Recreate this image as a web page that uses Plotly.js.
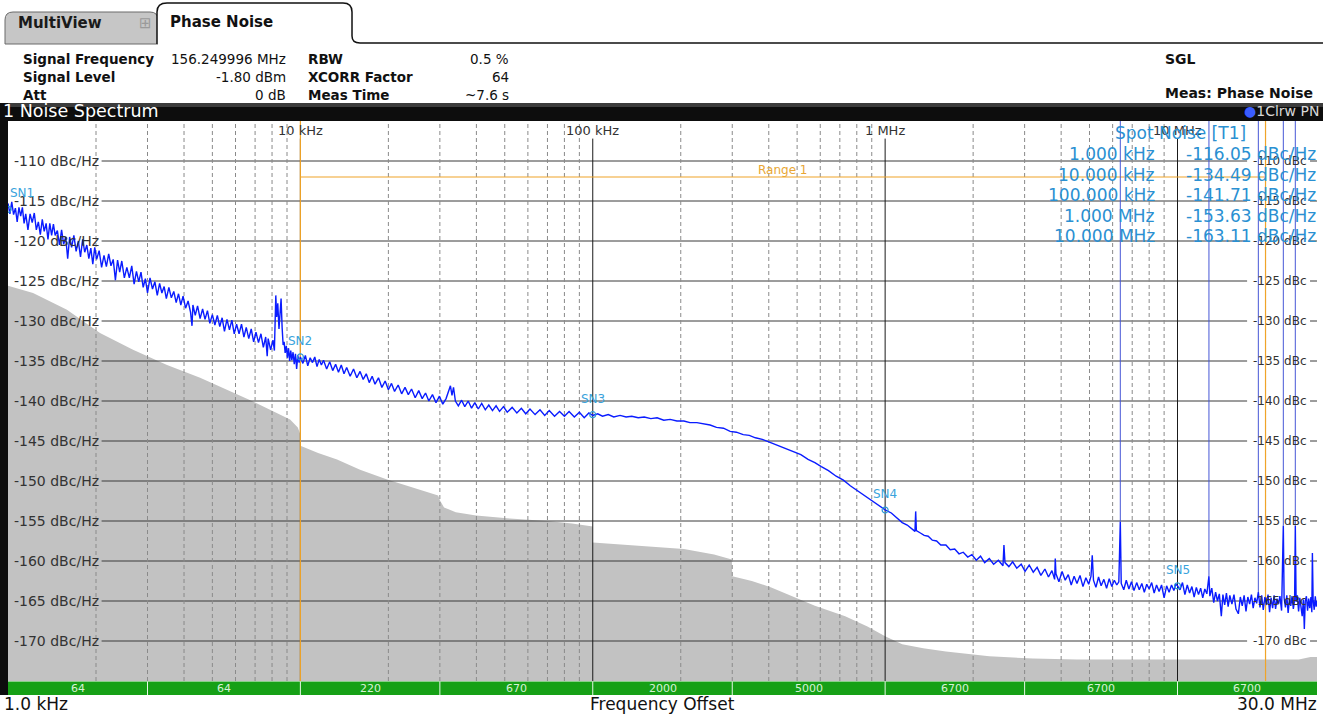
<!DOCTYPE html>
<html><head><meta charset="utf-8">
<script src="https://cdn.plot.ly/plotly-3.0.1.min.js"></script>
<style>html,body{margin:0;padding:0;background:#fff;overflow:hidden}#chart{width:1323px;height:714px}</style>
</head><body><div id="chart"></div>
<script>
// ---------------- DATA ----------------
// Measured phase noise trace, 1 kHz - 10 kHz: [offset kHz, dBc/Hz]
const noise1k = [
[1.000,-115.3],[1.015,-116.6],[1.030,-115.1],[1.045,-116.7],[1.060,-115.9],[1.075,-117.6],[1.090,-115.8],[1.105,-116.9],[1.120,-115.8],[1.135,-117.8],
[1.150,-116.6],[1.170,-118.6],[1.190,-116.6],[1.210,-117.7],[1.230,-116.5],[1.250,-118.6],[1.270,-117.6],[1.290,-119.2],[1.310,-117.3],[1.330,-118.8],
[1.350,-117.8],[1.370,-119.8],[1.390,-117.8],[1.410,-119.3],[1.430,-117.9],[1.450,-119.3],[1.475,-118.7],[1.500,-120.5],[1.525,-118.6],[1.550,-120.4],
[1.575,-119.5],[1.600,-122.2],[1.625,-119.5],[1.650,-120.8],[1.680,-119.3],[1.710,-121.3],[1.740,-120.0],[1.770,-122.0],[1.800,-119.8],[1.830,-121.4],
[1.860,-120.5],[1.890,-122.2],[1.920,-120.9],[1.950,-122.9],[1.980,-120.8],[2.010,-122.3],[2.050,-121.2],[2.090,-123.3],[2.130,-121.8],[2.170,-123.2],
[2.210,-121.6],[2.250,-123.1],[2.290,-122.3],[2.330,-124.9],[2.370,-122.4],[2.410,-123.9],[2.450,-122.5],[2.500,-124.6],[2.550,-123.3],[2.600,-124.6],
[2.650,-123.1],[2.700,-125.4],[2.750,-123.8],[2.800,-125.1],[2.850,-123.9],[2.900,-125.8],[2.950,-124.7],[3.000,-126.5],[3.060,-124.6],[3.120,-126.0],
[3.180,-125.1],[3.240,-126.8],[3.300,-125.3],[3.360,-126.5],[3.420,-125.7],[3.480,-127.2],[3.550,-125.8],[3.620,-127.1],[3.690,-126.3],[3.760,-127.7],
[3.830,-126.6],[3.900,-128.0],[3.970,-126.9],[4.050,-128.4],[4.130,-127.5],[4.210,-128.9],[4.260,-130.6],[4.290,-128.0],[4.370,-129.3],[4.450,-128.1],
[4.540,-129.7],[4.630,-128.5],[4.720,-129.8],[4.810,-128.7],[4.900,-130.3],[5.000,-129.2],[5.100,-130.5],[5.200,-129.3],[5.300,-130.7],[5.400,-129.6],
[5.500,-131.3],[5.610,-129.8],[5.720,-131.1],[5.830,-129.9],[5.940,-131.6],[6.050,-130.4],[6.170,-131.6],[6.290,-130.4],[6.410,-132.0],[6.530,-130.8],
[6.660,-132.2],[6.790,-131.0],[6.920,-132.6],[7.050,-131.4],[7.190,-132.7],[7.330,-131.6],[7.470,-133.3],[7.610,-132.0],[7.700,-134.4],[7.760,-132.2],
[7.910,-133.6],[8.060,-132.4],[8.150,-133.7],[8.19,-130.5],[8.24,-126.8],[8.30,-129.5],[8.37,-127.8],[8.45,-131.0],[8.52,-128.2],[8.59,-127.2],
[8.66,-130.8],[8.73,-133.0],[8.80,-132.6],[8.87,-134.0],[8.95,-133.1],[9.03,-134.6],[9.11,-133.4],[9.19,-135.0],[9.27,-133.7],[9.35,-134.9],
[9.44,-133.9],[9.53,-135.4],[9.62,-134.1],[9.71,-136.0],[9.80,-134.3],[9.90,-135.2]
];
// 10 kHz - 100 kHz
const noise10k = [
[10.0,-134.5],[10.2,-135.3],[10.4,-134.3],[10.6,-135.6],[10.8,-134.6],[11.0,-135.2],[11.2,-134.5],[11.4,-135.7],[11.6,-134.8],[11.8,-135.5],
[12.0,-134.9],[12.3,-136.0],[12.6,-135.1],[12.9,-136.2],[13.2,-135.4],[13.5,-136.4],[13.8,-135.5],[14.1,-136.6],[14.4,-135.8],[14.8,-136.9],
[15.2,-136.0],[15.6,-137.1],[16.0,-136.3],[16.4,-137.3],[16.8,-136.6],[17.2,-137.7],[17.6,-136.9],[18.0,-137.9],[18.5,-137.1],[19.0,-138.3],
[19.5,-137.5],[20.0,-138.6],[20.5,-137.8],[21.0,-138.8],[21.6,-138.0],[22.2,-139.1],[22.8,-138.3],[23.4,-139.2],[24.0,-138.5],[24.7,-139.6],
[25.4,-138.7],[26.1,-139.7],[26.8,-139.0],[27.5,-140.0],[28.3,-139.2],[29.1,-140.2],[29.9,-139.4],[30.7,-140.4],[31.5,-139.7],[32.2,-138.6],
[32.6,-138.1],[33.0,-139.3],[33.4,-138.3],[33.9,-140.0],[34.7,-140.6],[35.6,-139.9],[36.5,-140.7],[37.5,-140.0],[38.5,-140.9],[39.5,-140.2],
[40.6,-141.0],[41.7,-140.3],[42.9,-141.1],[44.1,-140.5],[45.4,-141.2],[46.7,-140.6],[48.0,-141.3],[49.5,-140.7],[51.0,-141.4],[53.0,-140.8],
[55.0,-141.5],[57.0,-140.9],[59.0,-141.6],[61.0,-141.0],[63.5,-141.7],[66.0,-141.1],[68.5,-141.8],[71.0,-141.2],[74.0,-141.9],[77.0,-141.3],
[80.0,-141.9],[83.0,-141.3],[86.5,-142.0],[90.0,-141.4],[93.5,-142.1],[97.0,-141.5]
];
// 100 kHz - 1 MHz
const noise100k = [
[100,-141.8],[104,-141.6],[108,-141.9],[113,-141.7],[118,-142.0],[124,-141.8],[130,-142.0],[136,-141.9],[143,-142.1],[150,-142.0],
[158,-142.2],[166,-142.1],[175,-142.4],[184,-142.3],[194,-142.5],[205,-142.5],[215,-142.7],[227,-142.7],[240,-142.9],[252,-143.0],
[265,-143.3],[280,-143.4],[295,-143.8],[310,-143.9],[327,-144.2],[343,-144.3],[360,-144.6],[380,-144.8],[400,-145.1],[420,-145.4],
[441,-145.7],[465,-146.0],[490,-146.4],[515,-146.7],[545,-147.3],[575,-147.7],[605,-148.2],[640,-148.7],[680,-149.4],[720,-149.9],
[760,-150.6],[809,-151.3],[850,-151.8],[900,-152.4],[950,-153.0]
];
// 1 MHz - 10 MHz
const noise1M = [
[1000,-153.6],[1050,-154.0],[1100,-154.6],[1144,-155.2],[1190,-155.5],[1230,-155.9],[1265,-156.3],[1272,-153.8],[1279,-156.2],[1320,-156.5],
[1360,-156.8],[1404,-156.9],[1450,-157.4],[1500,-157.5],[1550,-158.0],[1614,-158.0],[1670,-158.6],[1730,-158.5],[1790,-159.1],[1850,-158.9],
[1917,-159.5],[1980,-159.2],[2050,-159.9],[2120,-159.4],[2190,-160.2],[2271,-159.7],[2350,-160.4],[2440,-159.9],[2530,-160.6],[2549,-158.0],
[2570,-160.2],[2650,-160.7],[2730,-160.1],[2820,-160.9],[2920,-160.4],[3010,-161.3],[3110,-160.5],[3211,-161.4],[3310,-160.8],[3410,-161.8],
[3520,-161.0],[3620,-162.0],[3720,-161.2],[3800,-162.3],[3819,-159.7],[3840,-161.6],[3930,-162.6],[4030,-161.3],[4130,-162.4],[4230,-161.7],
[4330,-163.0],[4430,-161.9],[4531,-162.8],[4640,-161.8],[4750,-163.2],[4860,-162.1],[4970,-162.9],[5060,-161.9],[5110,-159.3],[5160,-162.4],
[5260,-163.3],[5370,-162.0],[5480,-163.1],[5600,-162.3],[5720,-163.4],[5840,-162.2],[5960,-163.2],[6080,-162.4],[6200,-163.0],[6300,-162.6],
[6373,-155.1],[6420,-162.8],[6550,-163.6],[6680,-162.4],[6820,-163.5],[6960,-162.6],[7100,-163.7],[7250,-162.7],[7400,-163.6],[7550,-162.8],
[7700,-163.9],[7850,-162.9],[8000,-163.5],[8160,-162.7],[8320,-164.0],[8480,-163.0],[8650,-163.8],[8820,-163.0],[9000,-164.6],[9180,-163.1],
[9360,-163.9],[9540,-163.0],[9720,-163.7],[9860,-162.9]
];
// 10 MHz - 30 MHz
const noise10M = [
[10000,-163.1],[10200,-163.6],[10400,-162.7],[10600,-164.2],[10800,-163.0],[11000,-164.0],[11200,-163.2],[11400,-164.5],[11600,-163.3],[11800,-164.2],
[12000,-163.4],[12200,-164.6],[12400,-163.5],[12600,-164.1],[12810,-161.9],[12900,-164.4],[13100,-163.4],[13300,-165.2],[13500,-163.9],[13700,-165.0],
[13900,-164.1],[14120,-166.9],[14300,-164.2],[14500,-165.5],[14700,-164.0],[14900,-165.7],[15100,-164.3],[15350,-165.4],[15600,-164.2],[15850,-166.0],
[16150,-166.6],[16400,-164.5],[16650,-165.6],[16900,-164.3],[17150,-166.3],[17400,-164.5],[17650,-165.4],[17900,-164.2],[18150,-165.9],[18400,-164.6],
[18650,-165.3],[18900,-163.9],[19150,-165.8],[19400,-164.3],[19650,-166.1],[19900,-164.5],[20150,-165.5],[20400,-164.2],[20650,-166.4],[20900,-164.6],
[21150,-165.9],[21400,-164.3],[21650,-166.0],[21900,-164.7],[22150,-165.4],[22400,-164.4],[22700,-166.2],[23010,-155.6],[23150,-164.6],[23400,-165.8],
[23650,-164.3],[23900,-166.5],[24150,-164.7],[24400,-165.6],[24650,-164.4],[24900,-166.0],[25150,-164.9],[25290,-155.6],[25450,-165.1],[25700,-164.3],
[25950,-166.3],[26200,-164.6],[26450,-165.7],[26700,-166.9],[26950,-164.8],[27150,-168.5],[27350,-165.0],[27600,-164.4],[27850,-166.2],[28100,-164.7],
[28350,-165.9],[28600,-164.5],[28800,-166.4],[28930,-159.0],[29100,-164.9],[29350,-166.1],[29600,-164.4],[29800,-165.7],[30000,-165.0]
];
// Grey cross-correlation floor: [offset kHz, dBc/Hz]
const xcorrFloor = [
[1.0,-125.6],[1.218,-126.5],[1.591,-128.6],[2.064,-131.5],[2.677,-133.6],[3.499,-135.5],[4.54,-137.1],[6.83,-140.0],[8.3,-141.5],[9.22,-142.3],
[9.8,-143.3],[10.0,-144.2],[10.0,-145.6],[11.5,-146.5],[13.35,-147.3],[16.0,-148.6],[19.8,-149.8],[24.5,-150.9],[29.6,-151.8],[30.0,-152.4],
[31.0,-153.3],[34.0,-153.9],[39.9,-154.3],[52.0,-154.7],[69.8,-155.0],[85.0,-155.3],[100,-155.7],[100,-157.7],[143.5,-158.1],[205,-158.5],
[260,-159.2],[299,-159.8],[300,-161.9],[350,-162.5],[408,-163.3],[490,-164.5],[575,-165.6],[730,-166.9],[870,-168.2],[1000,-169.4],
[1144,-170.4],[1350,-170.9],[1614,-171.3],[2271,-171.9],[3200,-172.2],[4531,-172.3],[10000,-172.3],[26000,-172.3],[28500,-172.0],[30000,-172.0]
];
// Off-scale spurs (thin lines running to the top): offset kHz and the trace level they start from
const spurFreqKHz = [6373, 12810, 18900, 23010, 25290];
const spurBaseDbc = [-155.1, -161.9, -163.9, -155.6, -155.6];
// Spot noise markers
const spotNames = ['SN1','SN2','SN3','SN4','SN5'];
const spotFreqKHz = [1, 10, 100, 1000, 10000];
const spotFreqText = ['1.000 kHz','10.000 kHz','100.000 kHz','1.000 MHz','10.000 MHz'];
const spotDbc = [-116.05, -134.49, -141.71, -153.63, -163.11];
// Axes
const yTickVals = [-110,-115,-120,-125,-130,-135,-140,-145,-150,-155,-160,-165,-170];
const decadeKHz = [10, 100, 1000, 10000];
const decadeLabels = ['10 kHz','100 kHz','1 MHz','10 MHz'];
const minorDecadesKHz = [1, 10, 100, 1000, 10000];
const minorMultipliers = [2,3,4,5,6,7,8,9];
const startKHz = 1, stopKHz = 30000;
// XCORR factor bar
const xcorrEdgesKHz = [1,3,10,30,100,300,1000,3000,10000,30000];
const xcorrCounts = ['64','64','220','670','2000','5000','6700','6700','6700'];
// Range 1 limits
const rangeStartKHz = 10, rangeStopKHz = 20000, rangeLevelDbc = -112;
// Header settings
const headerLeft = [['Signal Frequency','156.249996 MHz'],['Signal Level','-1.80 dBm'],['Att','0 dB']];
const headerMid = [['RBW','0.5 %'],['XCORR Factor','64'],['Meas Time','~7.6 s']];

// ---------------- BUILD ----------------
const noiseTrace = noise1k.concat(noise10k, noise100k, noise1M, noise10M);
const HZ = k => k * 1000;
const F = 'DejaVu Sans, Verdana, sans-serif';
const PL = 8, PR = 1317, PT = 121, PB = 681;
const PX = p => (p - PL) / (PR - PL);
const PY = p => (PB - p) / (PB - PT);

const traces = [];
traces.push({
  x: xcorrFloor.map(d => HZ(d[0])).concat([HZ(stopKHz), HZ(startKHz)]),
  y: xcorrFloor.map(d => d[1]).concat([-200, -200]),
  mode: 'lines', fill: 'toself', fillcolor: '#c2c2c2', line: {width: 0}, hoverinfo: 'skip'
});
const gapL = HZ(2.09), gapR1 = HZ(17300), gapR2 = HZ(28400);
const hx = [], hy = [];
yTickVals.forEach(v => { hx.push(gapL, gapR1, null, gapR2, HZ(stopKHz), null); hy.push(v, v, null, v, v, null); });
traces.push({x: hx, y: hy, mode: 'lines', line: {color: '#3a3a3a', width: 1}, hoverinfo: 'skip'});
const mx = [], my = [];
minorDecadesKHz.forEach(d => minorMultipliers.forEach(m => { const f = d * m; if (f < stopKHz) { mx.push(HZ(f), HZ(f), null); my.push(-175, -105, null); } }));
traces.push({x: mx, y: my, mode: 'lines', line: {color: '#8a8a8a', width: 1, dash: '4px,3px'}, hoverinfo: 'skip'});
const dx = [], dy = [];
decadeKHz.forEach(d => { dx.push(HZ(d), HZ(d), null); dy.push(-175, -107.2, null); });
traces.push({x: dx, y: dy, mode: 'lines', line: {color: '#1a1a1a', width: 1}, hoverinfo: 'skip'});
traces.push({
  x: [HZ(rangeStartKHz), HZ(rangeStartKHz), null, HZ(rangeStopKHz), HZ(rangeStopKHz), null, HZ(rangeStartKHz), HZ(rangeStopKHz)],
  y: [-175, -105, null, -175, -105, null, rangeLevelDbc, rangeLevelDbc],
  mode: 'lines', line: {color: '#f0a428', width: 1.2}, hoverinfo: 'skip'
});
traces.push({x: noiseTrace.map(d => HZ(d[0])), y: noiseTrace.map(d => d[1]), mode: 'lines',
  line: {color: '#0a1cff', width: 1.4}, hoverinfo: 'skip'});
const sx = [], sy = [];
spurFreqKHz.forEach((f, i) => { sx.push(HZ(f), HZ(f), null); sy.push(spurBaseDbc[i], -95, null); });
traces.push({x: sx, y: sy, mode: 'lines', line: {color: '#4657d6', width: 1}, hoverinfo: 'skip'});
traces.push({x: spotFreqKHz.map(HZ), y: spotDbc, mode: 'markers',
  marker: {symbol: 'circle-open', size: 6, color: '#2d9ad6', line: {width: 1.2}}, hoverinfo: 'skip'});

const ann = [];
function A(text, px, py, o) {
  ann.push(Object.assign({text: text, x: PX(px), y: PY(py), xref: 'paper', yref: 'paper', showarrow: false,
    xanchor: 'left', yanchor: 'middle', font: {family: F, size: 13.5, color: '#111'}}, o || {}));
}
A('<b>MultiView</b>', 16, 23, {font: {family: F, size: 15, color: '#1a1a1a'}});
A('⊞', 137, 23, {font: {family: F, size: 15, color: '#9a9a9a'}});
A('<b>Phase Noise</b>', 168, 22, {font: {family: F, size: 15, color: '#111'}});
const rowsY = [59, 77.5, 95];
headerLeft.forEach((r, i) => { A('<b>' + r[0] + '</b>', 21, rowsY[i]); A(r[1], 288, rowsY[i], {xanchor: 'right'}); });
headerMid.forEach((r, i) => { A('<b>' + r[0] + '</b>', 306, rowsY[i]); A(r[1], 511, rowsY[i], {xanchor: 'right'}); });
A('<b>SGL</b>', 1163, rowsY[0], {font: {family: F, size: 14, color: '#111'}});
A('<b>Meas: Phase Noise</b>', 1163, 93, {font: {family: F, size: 14, color: '#111'}});
A('1 Noise Spectrum', 1, 111.5, {font: {family: F, size: 17.5, color: '#ffffff'}});
A('<span style="color:#3a5cff">●</span>1Clrw PN', 1321, 111.5, {xanchor: 'right', font: {family: F, size: 14, color: '#d8d8d8'}});
yTickVals.forEach(v => {
  const py = PB - (v + 175) / 70 * (PB - PT);
  A(v + ' dBc/Hz', 12, py, {font: {family: F, size: 14, color: '#333'}});
  A(v + ' dBc', 1280, py, {xanchor: 'center', font: {family: F, size: 12, color: '#333'}});
});
decadeKHz.forEach((d, i) => ann.push({text: decadeLabels[i], x: Math.log10(HZ(d)), y: PY(130), xref: 'x', yref: 'paper',
  showarrow: false, xanchor: 'center', yanchor: 'middle', font: {family: F, size: 13, color: '#333'}}));
ann.push({text: 'Range 1', x: (Math.log10(HZ(rangeStartKHz)) + Math.log10(HZ(rangeStopKHz))) / 2, y: rangeLevelDbc, xref: 'x', yref: 'y',
  showarrow: false, yshift: 7, xanchor: 'center', yanchor: 'middle', font: {family: F, size: 12, color: '#e8a634'}});
spotNames.forEach((n, i) => ann.push({text: n, x: Math.log10(HZ(spotFreqKHz[i])), y: spotDbc[i], xref: 'x', yref: 'y',
  showarrow: false, yshift: 16, xanchor: i === 0 ? 'left' : 'center', yanchor: 'middle', font: {family: F, size: 12, color: '#3aa3dc'}}));
A('Spot Noise [T1]', 1180, 133, {xanchor: 'center', font: {family: F, size: 17, color: '#2a90d2'}});
spotFreqText.forEach((t, i) => {
  const py = 154 + i * 20.6;
  A(t, 1157, py, {xanchor: 'right', font: {family: F, size: 17, color: '#2a90d2'}});
  A(spotDbc[i].toFixed(2) + ' dBc/Hz', 1184, py, {font: {family: F, size: 17, color: '#2a90d2'}});
});
xcorrCounts.forEach((c, i) => ann.push({text: c, x: (Math.log10(HZ(xcorrEdgesKHz[i])) + Math.log10(HZ(xcorrEdgesKHz[i + 1]))) / 2,
  y: PY(688), xref: 'x', yref: 'paper', showarrow: false, xanchor: 'center', yanchor: 'middle',
  font: {family: F, size: 11, color: '#d6f2d6'}}));
A('1.0 kHz', 2, 704, {font: {family: F, size: 17, color: '#111'}});
A('Frequency Offset', 662, 704, {xanchor: 'center', font: {family: F, size: 17, color: '#111'}});
A('30.0 MHz', 1319, 704, {xanchor: 'right', font: {family: F, size: 17, color: '#111'}});

const shapes = [];
const P = (x, y) => PX(x).toFixed(5) + ',' + PY(y).toFixed(5);
shapes.push({type: 'path', xref: 'paper', yref: 'paper', layer: 'below',
  path: 'M' + P(5, 44) + ' L' + P(5, 20) + ' Q' + P(5, 12) + ' ' + P(13, 12) + ' L' + P(150, 12) + ' Q' + P(158, 12) + ' ' + P(158, 20) + ' L' + P(158, 44) + ' Z',
  fillcolor: '#c6c6c6', line: {color: '#6a6a6a', width: 1}});
shapes.push({type: 'path', xref: 'paper', yref: 'paper', layer: 'below',
  path: 'M' + P(157, 44) + ' L' + P(157, 12) + ' Q' + P(157, 3) + ' ' + P(167, 3) + ' L' + P(343, 3) + ' Q' + P(352, 3) + ' ' + P(352, 12) + ' L' + P(352, 44) + ' Z',
  fillcolor: '#ffffff', line: {width: 0}});
shapes.push({type: 'path', xref: 'paper', yref: 'paper',
  path: 'M' + P(157, 44) + ' L' + P(157, 12) + ' Q' + P(157, 3) + ' ' + P(167, 3) + ' L' + P(343, 3) + ' Q' + P(352, 3) + ' ' + P(352, 12) + ' L' + P(352, 36) + ' Q' + P(352, 43) + ' ' + P(360, 43) + ' L' + P(1323, 43),
  fillcolor: 'rgba(0,0,0,0)', line: {color: '#111', width: 1.5}});
shapes.push({type: 'rect', xref: 'paper', yref: 'paper', x0: PX(0), x1: PX(1323), y0: PY(121), y1: PY(103), fillcolor: '#0d0d0d', line: {width: 0}});
shapes.push({type: 'rect', xref: 'paper', yref: 'paper', x0: PX(0), x1: PX(1323), y0: PY(107), y1: PY(103), fillcolor: '#3c3c3c', line: {width: 0}});
shapes.push({type: 'rect', xref: 'paper', yref: 'paper', x0: PX(0), x1: PX(8), y0: PY(695), y1: PY(103), fillcolor: '#0d0d0d', line: {width: 0}});
shapes.push({type: 'rect', xref: 'x', yref: 'paper', x0: HZ(startKHz), x1: HZ(stopKHz), y0: PY(695), y1: PY(681.5), fillcolor: '#16a016', line: {width: 0}});
xcorrEdgesKHz.slice(1, -1).forEach(e => shapes.push({type: 'line', xref: 'x', yref: 'paper', x0: HZ(e), x1: HZ(e), y0: PY(695), y1: PY(681.5), line: {color: '#e8f8e8', width: 1}}));

const layout = {
  width: 1323, height: 714, margin: {l: PL, r: 1323 - PR, t: PT, b: 714 - PB},
  paper_bgcolor: '#ffffff', plot_bgcolor: '#ffffff', showlegend: false,
  xaxis: {type: 'log', range: [Math.log10(HZ(startKHz)), Math.log10(HZ(stopKHz))], showgrid: false, zeroline: false,
    showticklabels: false, ticks: '', showline: false, fixedrange: true},
  yaxis: {range: [-175, -105], showgrid: false, zeroline: false, showticklabels: false, ticks: '', showline: false, fixedrange: true},
  annotations: ann, shapes: shapes, font: {family: F}
};
Plotly.newPlot('chart', traces, layout, {displayModeBar: false, staticPlot: true});
</script></body></html>
